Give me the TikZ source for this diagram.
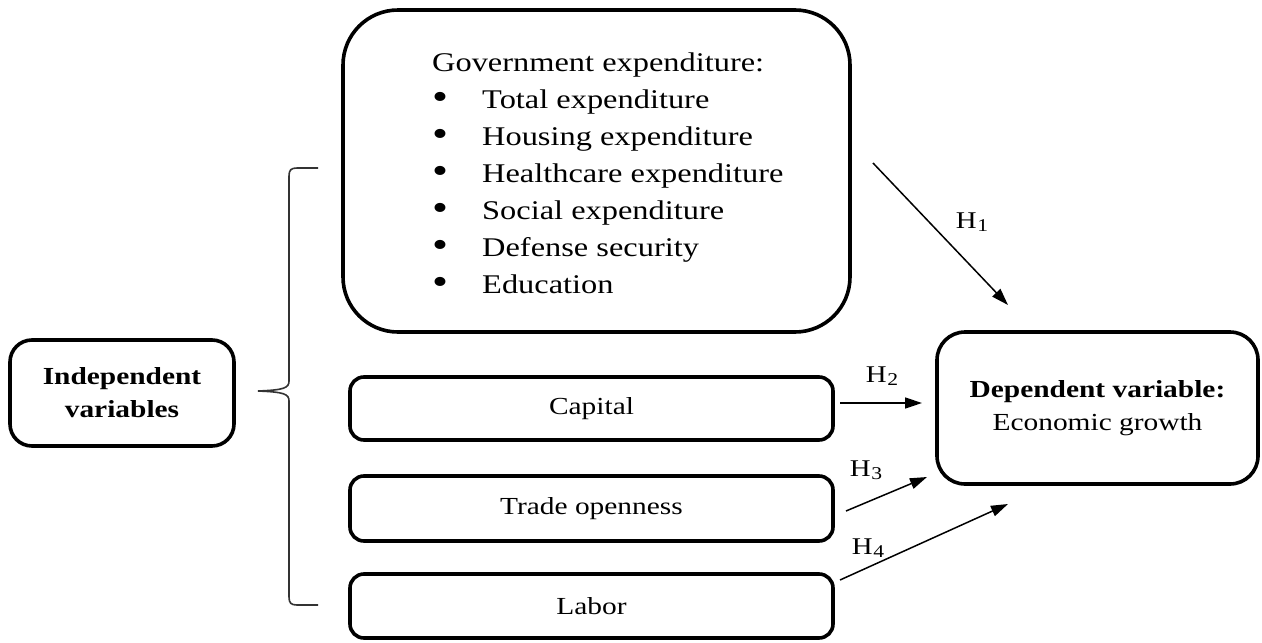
\documentclass[tikz,border=0pt]{standalone}
\usepackage{fontspec}
\setmainfont{Liberation Serif}[FakeStretch=1.2]
\usetikzlibrary{arrows.meta}
\newcommand\hyp[1]{H\kern0.5pt\raisebox{-2.5pt}{\fontsize{18}{18}\selectfont #1}}
\newcommand\bigbul{\makebox[50pt][l]{\raisebox{-1pt}{\fontsize{38}{38}\selectfont\textbullet}}}
\begin{document}
\begin{tikzpicture}[x=1pt,y=-1pt,
  roundbox/.style={draw, line width=3.6pt, inner sep=0pt, align=center},
  boxtext/.style={font=\fontsize{24.5}{33}\selectfont},
  hypo/.style={-{Triangle[length=17pt,width=11pt]}, line width=1.5pt},
  hlabel/.style={font=\fontsize{24}{24}\selectfont, inner sep=0pt},
  brace/.style={draw=black!80, line width=1.6pt}]
\useasboundingbox (0,0) rectangle (1262,643);

% Government expenditure block
\node[roundbox, rounded corners=55pt, minimum width=507pt, minimum height=322pt] (gov) at (596.5,171) {};
\node[anchor=north west, inner sep=0pt, align=left, font=\fontsize{27}{37}\selectfont] (govtext) at (432,53)
  {Government expenditure:\\
   \bigbul Total expenditure\\
   \bigbul Housing expenditure\\
   \bigbul Healthcare expenditure\\
   \bigbul Social expenditure\\
   \bigbul Defense security\\
   \bigbul Education};

% Other independent variables
\node[roundbox, boxtext, rounded corners=14pt, minimum width=483pt, minimum height=63pt] (capital) at (591.5,408.5) {Capital};
\node[roundbox, boxtext, rounded corners=14pt, minimum width=483pt, minimum height=65pt] (trade) at (591.5,508.5) {Trade openness};
\node[roundbox, boxtext, rounded corners=14pt, minimum width=483pt, minimum height=64pt] (labor) at (591.5,606) {Labor};

% Side label and outcome
\node[roundbox, font=\fontsize{24.5}{33}\selectfont\bfseries, rounded corners=22pt, minimum width=224pt, minimum height=106pt] (indep) at (122,393) {Independent\\variables};
\node[roundbox, boxtext, rounded corners=28pt, minimum width=321pt, minimum height=152pt] (dep) at (1097.5,408) {\textbf{Dependent variable:}\\Economic growth};

% Brace grouping the independent variables
\coordinate (btop) at (318,168);
\coordinate (bbot) at (318,605);
\coordinate (btip) at (258,391);
\draw[brace] (btop) -- (297,168) .. controls (291,168) and (289,170) .. (289,176)
  -- (289,381) .. controls (289,388) and (284,390) .. (btip)
  .. controls (284,392) and (289,394) .. (289,401)
  -- (289,597) .. controls (289,603) and (291,605) .. (297,605) -- (bbot);

% Hypothesis arrows
\coordinate (h1s) at (873,163);
\coordinate (h1e) at (1008,305);
\coordinate (h2s) at (840,403);
\coordinate (h2e) at (922,403);
\coordinate (h3s) at (846,511);
\coordinate (h3e) at (927,477);
\coordinate (h4s) at (840,580);
\coordinate (h4e) at (1008,504);
\draw[hypo] (h1s) -- (h1e);
\draw[hypo] (h2s) -- (h2e);
\draw[hypo] (h3s) -- (h3e);
\draw[hypo] (h4s) -- (h4e);
\node[hlabel] (l1) at (972,222) {\hyp{1}};
\node[hlabel] (l2) at (882,376) {\hyp{2}};
\node[hlabel] (l3) at (866,470) {\hyp{3}};
\node[hlabel] (l4) at (868,548) {\hyp{4}};
\end{tikzpicture}
\end{document}
